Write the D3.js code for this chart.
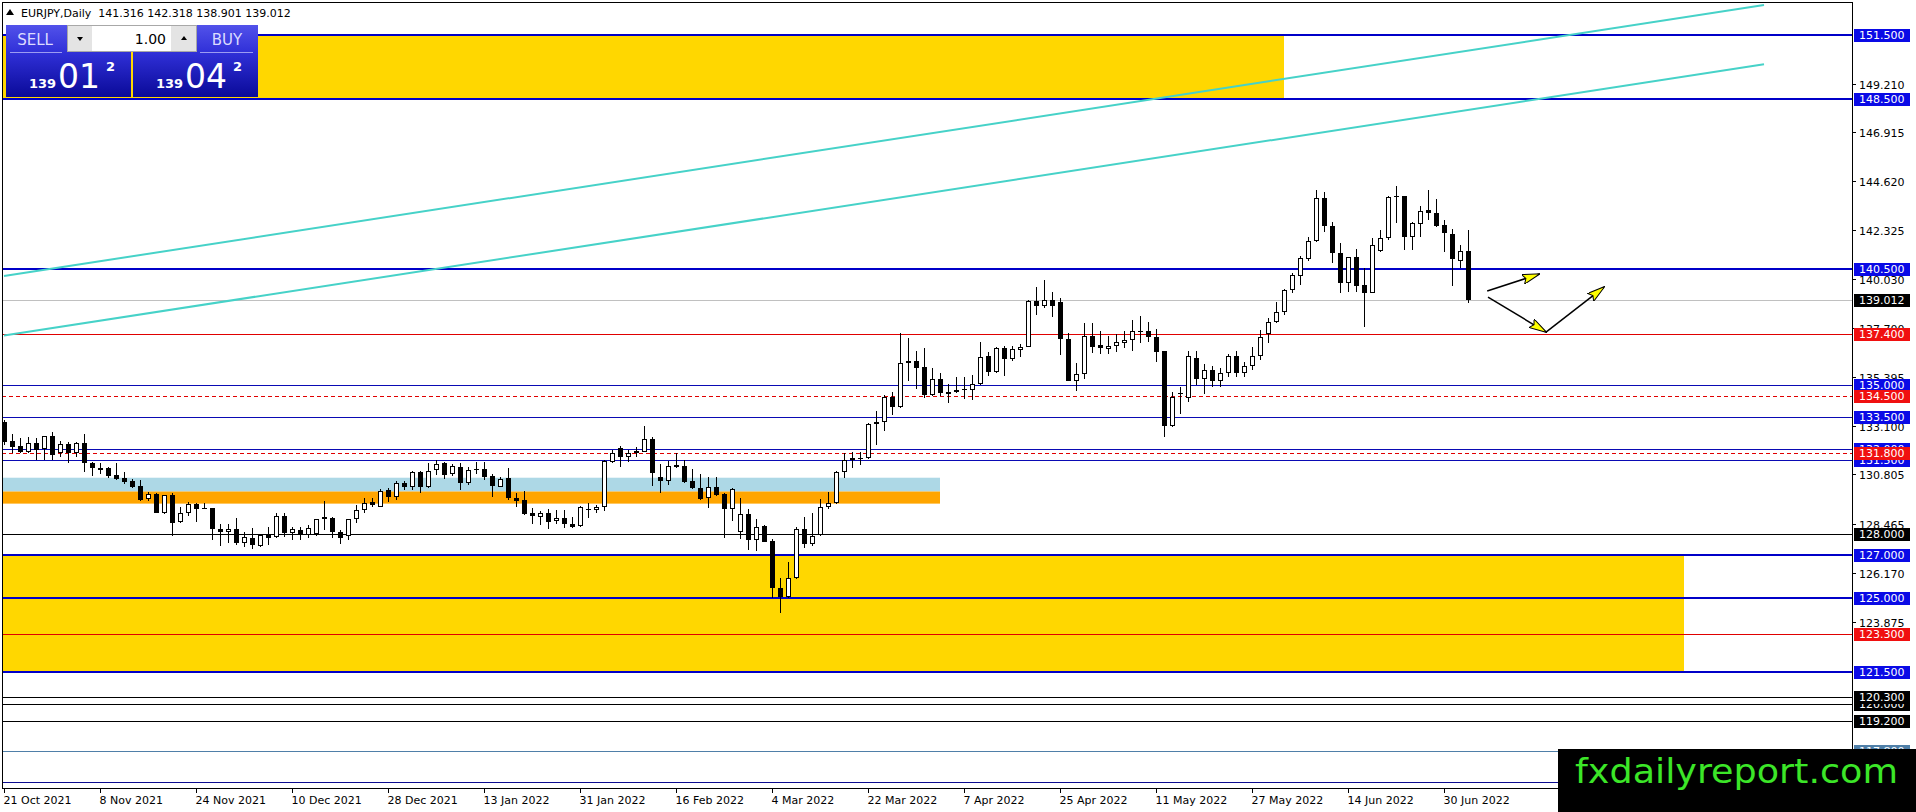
<!DOCTYPE html>
<html>
<head>
<meta charset="utf-8">
<script src="https://cdn.jsdelivr.net/npm/d3@7"></script>
<style>
  body { margin: 0; background: #fff; overflow: hidden; }
  svg { display: block; }
  text { font-family: "DejaVu Sans", Verdana, sans-serif; }
</style>
</head>
<body>
<div id="chart"></div>
<script>
// taille de l'image et zone du graphique
const width = 1916, height = 812;
const plot = { left: 2, top: 3, right: 1852, bottom: 788 };

// symbole et prix courants
const symbol = "EURJPY,Daily";
const bid = "139.012", ask = "139.042", lot = "1.00";

// etiquettes de dates (une tous les 12 jours de bourse)
const dateLabels = ["21 Oct 2021", "8 Nov 2021", "24 Nov 2021", "10 Dec 2021", "28 Dec 2021",
  "13 Jan 2022", "31 Jan 2022", "16 Feb 2022", "4 Mar 2022", "22 Mar 2022", "7 Apr 2022",
  "25 Apr 2022", "11 May 2022", "27 May 2022", "14 Jun 2022", "30 Jun 2022"];
const barsPerLabel = 12;

// graduations de l'axe des prix
const priceTicks = [149.210, 146.915, 144.620, 142.325, 140.030, 137.700, 135.395, 133.100,
  130.805, 128.465, 126.170, 123.875];

// bougies journalieres
const opens = [
  133.29, 132.38, 132.14, 131.88, 132.27, 131.99, 132.62, 131.83, 132.24, 131.83,
  132.27, 131.33, 131.00, 131.09, 130.78, 130.62, 130.51, 130.26, 129.63, 129.88,
  128.97, 129.84, 128.55, 128.97, 129.40, 129.24, 129.21, 128.24, 128.08, 128.24,
  127.56, 127.80, 127.43, 127.95, 127.84, 128.85, 128.06, 128.20, 127.95, 128.00,
  128.80, 128.74, 128.10, 127.90, 128.69, 129.13, 129.52, 129.29, 130.07, 129.73,
  130.42, 130.23, 130.90, 130.20, 131.00, 131.33, 130.81, 131.14, 130.39, 131.07,
  131.05, 130.73, 130.23, 130.62, 129.71, 129.60, 128.97, 128.82, 128.97, 128.60,
  128.75, 128.47, 128.38, 129.20, 129.15, 129.25, 131.40, 132.03, 131.61, 131.80,
  131.88, 132.47, 130.70, 130.51, 131.24, 131.20, 130.51, 130.15, 129.68, 130.20,
  129.88, 129.18, 128.11, 128.94, 127.71, 128.38, 127.68, 125.44, 125.02, 125.91,
  128.22, 127.51, 127.95, 129.25, 129.44, 130.90, 131.48, 131.60, 131.56, 133.16,
  133.26, 134.47, 133.99, 136.04, 136.16, 135.85, 134.55, 135.28, 134.69, 134.78,
  134.81, 134.78, 135.05, 136.38, 135.64, 136.74, 136.23, 136.66, 136.82, 138.97,
  138.74, 139.02, 138.91, 137.17, 135.22, 135.52, 137.32, 136.90, 136.73, 136.85,
  137.00, 137.13, 137.56, 137.56, 137.29, 136.63, 133.08, 134.60, 134.40, 136.30,
  135.30, 135.70, 135.20, 135.60, 136.40, 135.60, 135.90, 136.40, 137.42, 137.99,
  138.47, 139.49, 140.17, 140.93, 141.80, 143.81, 142.52, 141.25, 139.80, 141.03,
  139.72, 139.33, 141.34, 141.92, 143.93, 143.93, 141.97, 142.60, 143.26, 143.10,
  142.55, 142.13, 140.86, 141.316];
const highs = [
  133.37, 132.71, 132.50, 132.58, 132.50, 132.62, 132.82, 132.40, 132.35, 132.35,
  132.71, 131.41, 131.33, 131.14, 131.33, 130.90, 130.57, 130.54, 130.00, 129.92,
  129.84, 129.92, 129.26, 129.52, 129.48, 129.44, 129.21, 128.45, 128.45, 128.74,
  128.11, 128.27, 128.00, 128.35, 129.00, 128.97, 128.35, 128.35, 128.42, 128.72,
  129.57, 128.80, 128.20, 128.72, 129.37, 129.68, 129.68, 130.10, 130.15, 130.51,
  130.51, 130.98, 130.98, 131.33, 131.49, 131.41, 131.30, 131.33, 131.17, 131.37,
  131.37, 130.83, 130.70, 131.09, 129.92, 130.04, 129.21, 129.10, 129.16, 129.13,
  129.13, 128.78, 129.32, 129.44, 129.35, 131.48, 131.95, 132.14, 131.95, 132.11,
  133.08, 132.55, 131.30, 131.45, 131.80, 131.48, 131.04, 130.82, 130.70, 130.67,
  129.94, 130.15, 129.68, 129.16, 128.69, 128.42, 127.75, 125.91, 126.70, 128.34,
  128.78, 128.97, 129.63, 129.99, 130.98, 131.80, 131.88, 131.88, 133.24, 133.80,
  134.55, 134.70, 137.45, 137.21, 136.63, 136.74, 135.80, 135.60, 135.06, 135.38,
  135.41, 135.49, 137.06, 136.59, 136.82, 136.85, 136.85, 136.95, 139.02, 139.65,
  139.96, 139.41, 139.10, 137.45, 136.07, 137.92, 137.92, 137.56, 137.32, 137.42,
  137.58, 138.08, 138.27, 138.00, 137.64, 136.63, 134.67, 134.94, 136.60, 136.60,
  136.00, 135.90, 135.80, 136.50, 136.60, 136.10, 136.80, 137.60, 138.19, 138.94,
  139.52, 140.27, 141.09, 142.00, 144.20, 144.12, 142.71, 141.72, 141.06, 141.40,
  140.51, 141.92, 142.32, 143.92, 144.39, 143.93, 142.71, 143.45, 144.20, 143.76,
  142.79, 142.35, 141.61, 142.318];
const lows = [
  132.19, 131.83, 131.80, 131.83, 131.48, 131.48, 131.48, 131.64, 131.36, 131.64,
  130.94, 130.75, 130.81, 130.62, 130.54, 130.35, 130.15, 129.57, 129.57, 128.97,
  128.94, 127.90, 128.50, 128.85, 128.58, 129.16, 127.72, 127.43, 127.56, 127.48,
  127.40, 127.28, 127.37, 127.48, 127.80, 127.84, 127.72, 127.70, 127.80, 127.90,
  128.20, 127.80, 127.55, 127.70, 128.50, 128.97, 129.29, 129.29, 129.52, 129.60,
  130.07, 130.07, 129.95, 130.15, 130.78, 130.57, 130.73, 130.07, 130.31, 130.83,
  130.54, 129.73, 130.20, 129.60, 129.29, 128.90, 128.47, 128.42, 128.22, 128.47,
  128.30, 128.27, 128.35, 128.74, 128.97, 129.10, 131.36, 131.17, 131.40, 131.64,
  131.84, 130.26, 129.95, 130.32, 131.09, 130.42, 130.12, 129.60, 129.21, 129.79,
  127.80, 128.60, 127.75, 127.24, 127.20, 127.61, 124.97, 124.26, 124.97, 125.86,
  127.32, 127.43, 127.90, 129.18, 129.41, 130.62, 131.09, 131.25, 131.51, 132.19,
  132.86, 133.60, 133.92, 135.22, 134.81, 134.39, 134.50, 134.50, 134.18, 134.62,
  134.34, 134.31, 135.00, 135.44, 135.60, 135.44, 136.16, 136.35, 136.79, 138.31,
  138.63, 138.20, 136.43, 135.22, 134.75, 135.28, 136.54, 136.47, 136.47, 136.58,
  136.74, 136.63, 136.98, 137.06, 136.12, 132.58, 133.02, 133.65, 134.20, 135.00,
  134.60, 134.90, 134.90, 135.40, 135.40, 135.40, 135.70, 136.20, 137.00, 137.92,
  138.30, 139.36, 139.73, 140.87, 141.77, 142.24, 140.75, 139.33, 139.41, 139.41,
  137.76, 139.33, 141.30, 141.85, 142.63, 141.37, 141.37, 142.00, 142.79, 142.47,
  141.30, 139.68, 140.51, 138.901];
const closes = [
  132.35, 132.08, 131.88, 132.27, 131.96, 132.62, 131.72, 132.24, 131.83, 132.27,
  131.33, 131.09, 131.10, 130.75, 130.59, 130.46, 130.23, 129.60, 129.87, 129.00,
  129.84, 128.50, 128.97, 129.40, 129.16, 129.17, 128.22, 128.08, 128.24, 127.56,
  127.84, 127.48, 127.95, 127.83, 128.85, 128.06, 128.22, 127.95, 128.30, 128.69,
  128.70, 128.10, 127.80, 128.69, 129.13, 129.48, 129.37, 130.04, 129.73, 130.39,
  130.20, 130.90, 130.20, 130.98, 131.28, 130.78, 131.20, 130.39, 131.01, 131.00,
  130.67, 130.26, 130.60, 129.68, 129.57, 128.94, 128.85, 128.97, 128.58, 128.75,
  128.47, 128.35, 129.26, 129.17, 129.25, 131.44, 131.80, 131.61, 131.80, 131.91,
  132.47, 130.89, 130.51, 131.20, 131.17, 130.45, 130.15, 129.65, 130.20, 129.84,
  129.18, 130.10, 128.93, 127.71, 128.34, 127.64, 125.44, 125.02, 125.91, 128.22,
  127.53, 127.92, 129.25, 129.44, 130.90, 131.48, 131.59, 131.56, 133.16, 133.26,
  134.47, 133.99, 136.04, 136.16, 135.83, 134.55, 135.28, 134.62, 134.60, 134.70,
  134.76, 135.05, 136.35, 135.64, 136.74, 136.23, 136.70, 136.82, 138.97, 138.74,
  139.02, 138.75, 137.17, 135.22, 135.52, 137.32, 136.79, 136.74, 136.85, 137.06,
  137.13, 137.58, 137.53, 137.29, 136.59, 133.08, 134.47, 134.63, 136.38, 135.30,
  135.70, 135.20, 135.60, 136.40, 135.60, 135.90, 136.40, 137.30, 138.00, 138.47,
  139.49, 140.20, 140.98, 141.81, 143.81, 142.52, 141.25, 139.80, 141.03, 139.69,
  139.33, 141.61, 141.92, 143.85, 143.85, 141.97, 142.63, 143.23, 143.10, 142.52,
  142.16, 140.93, 141.32, 139.012];

// niveaux horizontaux
const blueThick = [151.5, 148.5, 140.5, 127.0, 125.0, 121.5];
const blueThin = [135.0, 133.5, 132.0, 131.5];
const blackLevels = [128.0, 120.0, 120.3, 119.2];
const redSolid = [137.4, 123.3];
const redDashed = [134.5, 131.8];
const steelLevel = 117.8;
const navyLevel = 116.3;

// zones (indice de bougie debut/fin, prix bas/haut)
const yellowTop = [-1, 160, 148.5, 151.5];
const yellowLow = [-1, 210, 121.5, 127.0];
const blueZone = [-1, 117, 130.0, 130.65];
const orangeZone = [-1, 117, 129.43, 130.0];

// lignes de tendance et fleches (indice, prix)
const trendUpper = [[0, 140.15], [220, 152.91]];
const trendLower = [[0, 137.35], [220, 150.12]];
const arrowOne = [[185.4, 139.44], [191.9, 140.24]];
const arrowTwo = [[185.5, 139.16], [192.75, 137.51], [200, 139.63]];

const watermark = "fxdailyreport.com";

const fmt = d3.format(".3f");
const n = opens.length;

const x = d3.scaleLinear().domain([0, n - 1]).range([4, 4 + 8 * (n - 1)]);
const y = d3.scaleLinear().domain([121.5, 151.5]).range([672, 35]);

const svg = d3.select("#chart").append("svg")
    .attr("width", width)
    .attr("height", height);

const defs = svg.append("defs");
defs.append("clipPath").attr("id", "clip")
    .append("rect")
    .attr("x", plot.left).attr("y", plot.top)
    .attr("width", plot.right - plot.left).attr("height", plot.bottom - plot.top);

defs.append("marker")
    .attr("id", "head")
    .attr("markerUnits", "userSpaceOnUse")
    .attr("viewBox", "0 0 18 10")
    .attr("refX", 17).attr("refY", 5)
    .attr("markerWidth", 18).attr("markerHeight", 10)
    .attr("orient", "auto")
    .append("path")
    .attr("d", "M0,0 L18,5 L0,10 L3,5 Z")
    .attr("fill", "#ffff00")
    .attr("stroke", "#000")
    .attr("stroke-width", 1);

const grad = defs.append("linearGradient").attr("id", "btn")
    .attr("x1", 0).attr("y1", 0).attr("x2", 0).attr("y2", 1);
grad.append("stop").attr("offset", "0%").attr("stop-color", "#5252ea");
grad.append("stop").attr("offset", "38%").attr("stop-color", "#3030d8");
grad.append("stop").attr("offset", "100%").attr("stop-color", "#0a0a98");

const g = svg.append("g").attr("clip-path", "url(#clip)");

// zones colorees
function zone(z, color) {
    g.append("rect")
        .attr("x", x(z[0])).attr("y", y(z[3]))
        .attr("width", x(z[1]) - x(z[0]))
        .attr("height", y(z[2]) - y(z[3]))
        .attr("fill", color);
}
zone(yellowTop, "#ffd700");
zone(yellowLow, "#ffd700");
zone(blueZone, "#add8e6");
zone(orangeZone, "#ffa500");

// lignes horizontales
function hline(p, color, w, dash) {
    const yy = Math.round(y(p)) + (w % 2 ? 0.5 : 0);
    g.append("line")
        .attr("x1", plot.left).attr("x2", plot.right)
        .attr("y1", yy).attr("y2", yy)
        .attr("stroke", color).attr("stroke-width", w)
        .attr("stroke-dasharray", dash || null);
}
hline(+bid, "#c0c0c0", 1);
redSolid.forEach(p => hline(p, "#e00000", 1));
redDashed.forEach(p => hline(p, "#e00000", 1, "4,3"));
blueThin.forEach(p => hline(p, "#0a0ab4", 1));
blackLevels.forEach(p => hline(p, "#000", 1));
hline(steelLevel, "#4f7fa8", 1);
hline(navyLevel, "#0a0a90", 1);
blueThick.forEach(p => hline(p, "#0000c8", 2));

// lignes de tendance
[trendUpper, trendLower].forEach(t => {
    g.append("line")
        .attr("x1", x(t[0][0])).attr("y1", y(t[0][1]))
        .attr("x2", x(t[1][0])).attr("y2", y(t[1][1]))
        .attr("stroke", "#46d2c8").attr("stroke-width", 2);
});

// bougies
const bars = d3.range(n).map(i => ({ i, o: opens[i], h: highs[i], l: lows[i], c: closes[i] }));
const cg = g.append("g").attr("shape-rendering", "crispEdges");
const bodyTop = d => Math.round(y(Math.max(d.o, d.c)));
const bodyBot = d => Math.round(y(Math.min(d.o, d.c)));
cg.selectAll(".wick").data(bars).join("rect")
    .attr("class", "wick")
    .attr("x", d => Math.round(x(d.i)))
    .attr("y", d => Math.round(y(d.h)))
    .attr("width", 1)
    .attr("height", d => Math.max(1, Math.round(y(d.l)) - Math.round(y(d.h))))
    .attr("fill", "#000");
cg.selectAll(".body").data(bars).join("rect")
    .attr("class", "body")
    .attr("x", d => Math.round(x(d.i)) - 2)
    .attr("y", bodyTop)
    .attr("width", 5)
    .attr("height", d => Math.max(1, bodyBot(d) - bodyTop(d)))
    .attr("fill", "#000");
cg.selectAll(".inner").data(bars.filter(d => d.c > d.o && bodyBot(d) - bodyTop(d) > 2)).join("rect")
    .attr("class", "inner")
    .attr("x", d => Math.round(x(d.i)) - 1)
    .attr("y", d => bodyTop(d) + 1)
    .attr("width", 3)
    .attr("height", d => bodyBot(d) - bodyTop(d) - 2)
    .attr("fill", "#fff");

// fleches
const line = d3.line().x(d => x(d[0])).y(d => y(d[1]));
g.append("path").attr("d", line(arrowOne))
    .attr("fill", "none").attr("stroke", "#000").attr("stroke-width", 1.5)
    .attr("marker-end", "url(#head)");
g.append("path").attr("d", line(arrowTwo.slice(0, 2)))
    .attr("fill", "none").attr("stroke", "#000").attr("stroke-width", 1.5)
    .attr("marker-end", "url(#head)");
g.append("path").attr("d", line(arrowTwo.slice(1)))
    .attr("fill", "none").attr("stroke", "#000").attr("stroke-width", 1.5)
    .attr("marker-end", "url(#head)");

// cadre
svg.append("rect")
    .attr("x", plot.left + 0.5).attr("y", plot.top - 0.5)
    .attr("width", plot.right - plot.left).attr("height", plot.bottom - plot.top + 1)
    .attr("fill", "none").attr("stroke", "#000").attr("stroke-width", 1);

// axe des prix
const axisG = svg.append("g");
priceTicks.forEach(p => {
    const yy = Math.round(y(p)) + 0.5;
    axisG.append("line").attr("x1", plot.right).attr("x2", plot.right + 4)
        .attr("y1", yy).attr("y2", yy).attr("stroke", "#000");
    axisG.append("text").attr("x", plot.right + 7).attr("y", yy + 4)
        .attr("font-size", 11).attr("fill", "#000").text(fmt(p));
});

function tag(p, bg) {
    const yy = Math.round(y(p));
    axisG.append("rect").attr("x", plot.right + 2).attr("y", yy - 6)
        .attr("width", 56).attr("height", 13).attr("fill", bg);
    axisG.append("text").attr("x", plot.right + 7).attr("y", yy + 4)
        .attr("font-size", 11).attr("fill", "#fff").text(fmt(p));
}
tag(navyLevel, "#0a0a90");
tag(steelLevel, "#4f7fa8");
blueThick.concat(blueThin).forEach(p => tag(p, "#0a0ae6"));
blackLevels.forEach(p => tag(p, "#000"));
redSolid.concat(redDashed).forEach(p => tag(p, "#f01010"));
tag(+bid, "#000");

// axe du temps
const timeG = svg.append("g");
dateLabels.forEach((lab, k) => {
    const xx = Math.round(x(k * barsPerLabel)) + 0.5;
    timeG.append("line").attr("x1", xx).attr("x2", xx)
        .attr("y1", plot.bottom).attr("y2", plot.bottom + 5).attr("stroke", "#000");
    timeG.append("text").attr("x", xx - 1).attr("y", plot.bottom + 16)
        .attr("font-size", 11).attr("fill", "#000").text(lab);
});

// titre
const last = n - 1;
svg.append("path").attr("d", "M6,15 L10,9 L14,15 Z").attr("fill", "#000");
svg.append("text").attr("x", 21).attr("y", 17).attr("font-size", 11).attr("fill", "#000")
    .style("white-space", "pre")
    .text(`${symbol}  ${fmt(opens[last])} ${fmt(highs[last])} ${fmt(lows[last])} ${fmt(closes[last])}`);

// panneau de trading en un clic
const panel = svg.append("g");
function button(x0, label, price, labelX) {
    panel.append("rect").attr("x", x0).attr("y", 25).attr("width", 125).attr("height", 72)
        .attr("fill", "url(#btn)");
    panel.append("text").attr("x", labelX).attr("y", 45).attr("text-anchor", "middle")
        .attr("font-size", 15).attr("fill", "#dcdcff").text(label);
    const big = price.slice(4, 6), small = price.slice(0, 3), sup = price.slice(6);
    panel.append("text").attr("x", x0 + 23).attr("y", 88).attr("font-size", 13)
        .attr("font-weight", "bold").attr("fill", "#fff").text(small);
    panel.append("text").attr("x", x0 + 52).attr("y", 88).attr("font-size", 33)
        .attr("fill", "#fff").text(big);
    panel.append("text").attr("x", x0 + 100).attr("y", 71).attr("font-size", 13)
        .attr("font-weight", "bold").attr("fill", "#fff").text(sup);
}
button(6, "SELL", bid, 35);
button(133, "BUY", ask, 227);
panel.append("line").attr("x1", 10).attr("x2", 62).attr("y1", 52.5).attr("y2", 52.5)
    .attr("stroke", "#9c9cf2");
panel.append("line").attr("x1", 200).attr("x2", 253).attr("y1", 52.5).attr("y2", 52.5)
    .attr("stroke", "#9c9cf2");
panel.append("rect").attr("x", 67.5).attr("y", 25.5).attr("width", 129).attr("height", 26)
    .attr("fill", "#fff").attr("stroke", "#a8a8a8");
panel.append("rect").attr("x", 68).attr("y", 26).attr("width", 24).attr("height", 25).attr("fill", "#e4e4e4");
panel.append("rect").attr("x", 171).attr("y", 26).attr("width", 25).attr("height", 25).attr("fill", "#e4e4e4");
panel.append("path").attr("d", "M77,37 L83,37 L80,41 Z").attr("fill", "#000");
panel.append("path").attr("d", "M181,40 L187,40 L184,36 Z").attr("fill", "#000");
panel.append("text").attr("x", 166).attr("y", 44).attr("text-anchor", "end")
    .attr("font-size", 14).attr("fill", "#000").text(lot);

// filigrane
svg.append("rect").attr("x", 1558).attr("y", 749).attr("width", width - 1558).attr("height", height - 749)
    .attr("fill", "#000");
svg.append("text").attr("x", 1575).attr("y", 783)
    .attr("font-family", "'Liberation Sans', Arial, sans-serif")
    .attr("font-size", 33)
    .attr("textLength", 323).attr("lengthAdjust", "spacingAndGlyphs")
    .attr("fill", "#3ce628").text(watermark);
</script>
</body>
</html>
